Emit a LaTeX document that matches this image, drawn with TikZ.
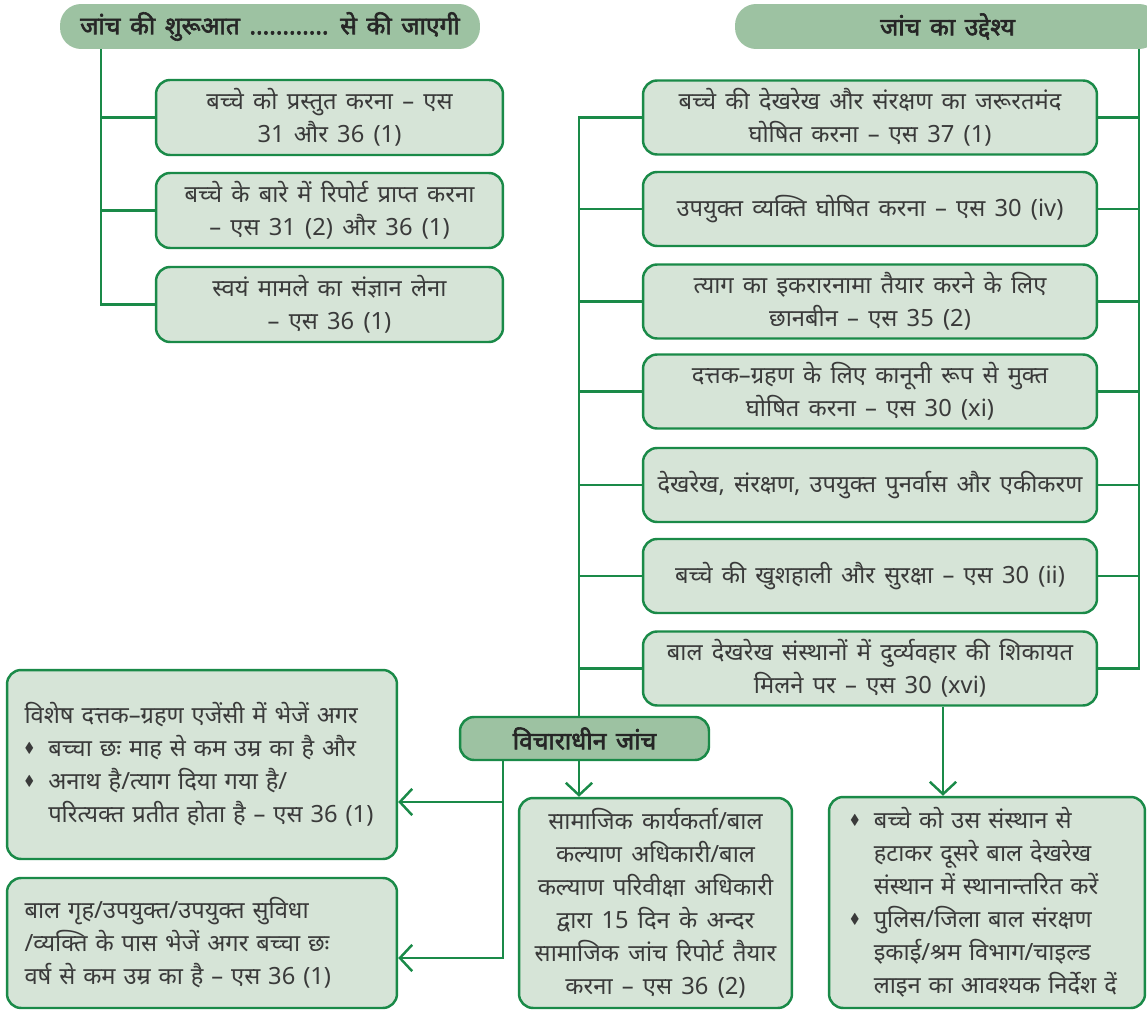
\documentclass[tikz,border=0pt]{standalone}
\usepackage{fontspec}
\usepackage{amssymb}
\setmainfont{Noto Sans}[Script=Devanagari,WordSpace=1.5,BoldFont={Noto Sans},BoldFeatures={FakeBold=2.5}]
\usetikzlibrary{arrows.meta}
\definecolor{boxfill}{HTML}{D6E4D7}
\definecolor{headfill}{HTML}{9DC2A2}
\definecolor{linegreen}{HTML}{1A8A48}
\definecolor{txt}{HTML}{3A3A3A}
\newcommand{\bul}{\makebox[1em][l]{\raisebox{0.3ex}{\scalebox{0.6}{$\blacklozenge$}}}}
\newcommand{\ind}{\hspace*{1em}}

\begin{document}
\begin{tikzpicture}[x=0.02cm,y=-0.02cm,
    box/.style={draw=linegreen,fill=boxfill,line width=1.4pt,rounded corners=8pt,text=txt,
      font=\fontsize{13.5}{18.8}\selectfont,align=center,inner sep=0pt},
    head/.style={fill=headfill,rounded corners=12pt,text=black!85,
      font=\bfseries\fontsize{14}{17}\selectfont,inner sep=0pt},
    conn/.style={linegreen,line width=1.4pt},
    arr/.style={conn,-{Straight Barb[length=7pt,width=15pt,line width=1.4pt]}}]
  \useasboundingbox (0,0) rectangle (1147,1010);
  \coordinate (lx) at (101,0);
  \coordinate (mx) at (579,0);
  \coordinate (rx) at (1139,0);
  \coordinate (vx) at (503,0);
  \coordinate (ax) at (943,0);
  % headings
  \node[head,minimum width=8.4cm,minimum height=0.9cm] (h1) at (270,26.5) {जांच की शुरूआत ............ से की जाएगी};
  \node[head,minimum width=8.5cm,minimum height=0.9cm] (h2) at (947.5,26.5) {जांच का उद्देश्य};
  % left column
  \node[box,minimum width=6.94cm,minimum height=1.5cm] (l1) at (329.5,117.5) {बच्चे को प्रस्तुत करना – एस\\31 और 36 (1)};
  \node[box,minimum width=6.94cm,minimum height=1.5cm] (l2) at (329.5,210.5) {बच्चे के बारे में रिपोर्ट प्राप्त करना\\– एस 31 (2) और 36 (1)};
  \node[box,minimum width=6.94cm,minimum height=1.5cm] (l3) at (329.5,304.5) {स्वयं मामले का संज्ञान लेना\\– एस 36 (1)};
  % right column
  \node[box,minimum width=9.08cm,minimum height=1.48cm] (r1) at (870,117.5) {बच्चे की देखरेख और संरक्षण का जरूरतमंद\\घोषित करना – एस 37 (1)};
  \node[box,minimum width=9.08cm,minimum height=1.48cm] (r2) at (870,209) {उपयुक्त व्यक्ति घोषित करना – एस 30 (iv)};
  \node[box,minimum width=9.08cm,minimum height=1.48cm] (r3) at (870,301.5) {त्याग का इकरारनामा तैयार करने के लिए\\छानबीन – एस 35 (2)};
  \node[box,minimum width=9.08cm,minimum height=1.48cm] (r4) at (870,391.5) {दत्तक–ग्रहण के लिए कानूनी रूप से मुक्त\\घोषित करना – एस 30 (xi)};
  \node[box,minimum width=9.08cm,minimum height=1.48cm] (r5) at (870,485) {देखरेख, संरक्षण, उपयुक्त पुनर्वास और एकीकरण};
  \node[box,minimum width=9.08cm,minimum height=1.48cm] (r6) at (870,576) {बच्चे की खुशहाली और सुरक्षा – एस 30 (ii)};
  \node[box,minimum width=9.08cm,minimum height=1.48cm] (r7) at (870,668.5) {बाल देखरेख संस्थानों में दुर्व्यवहार की शिकायत\\मिलने पर – एस 30 (xvi)};
  % pending inquiry
  \node[box,fill=headfill,text=black!85,font=\bfseries\fontsize{14}{17}\selectfont,minimum width=4.98cm,minimum height=0.86cm] (v) at (584.5,738.5) {विचाराधीन जांच};
  \node[box,align=left,text width=7.1cm,minimum width=7.8cm,minimum height=3.78cm] (l4) at (202,764.5) {विशेष दत्तक–ग्रहण एजेंसी में भेजें अगर\\\bul बच्चा छः माह से कम उम्र का है और\\\bul अनाथ है/त्याग दिया गया है/\\\ind परित्यक्त प्रतीत होता है – एस 36 (1)};
  \node[box,align=left,text width=7.1cm,minimum width=7.8cm,minimum height=2.6cm] (l5) at (202,943) {बाल गृह/उपयुक्त/उपयुक्त सुविधा\\/व्यक्ति के पास भेजें अगर बच्चा छः\\वर्ष से कम उम्र का है – एस 36 (1)};
  \node[box,minimum width=5.46cm,minimum height=4.2cm] (m) at (655.5,903) {सामाजिक कार्यकर्ता/बाल\\कल्याण अधिकारी/बाल\\कल्याण परिवीक्षा अधिकारी\\द्वारा 15 दिन के अन्दर\\सामाजिक जांच रिपोर्ट तैयार\\करना – एस 36 (2)};
  \node[box,align=left,text width=5.48cm,minimum width=6.32cm,minimum height=4.22cm] (r8) at (987,902.5) {\bul बच्चे को उस संस्थान से\\\ind हटाकर दूसरे बाल देखरेख\\\ind संस्थान में स्थानान्तरित करें\\\bul पुलिस/जिला बाल संरक्षण\\\ind इकाई/श्रम विभाग/चाइल्ड\\\ind लाइन का आवश्यक निर्देश दें};
  % connectors
  \draw[conn] (h1.south -| lx) |- (l3.west);
  \draw[conn] (l1.west) -- (l1.west -| lx);
  \draw[conn] (l2.west) -- (l2.west -| lx);
  \draw[conn] (h2.south -| rx) |- (r7.east);
  \foreach \r in {r1,r2,r3,r4,r5,r6}
    \draw[conn] (\r.east) -- (\r.east -| rx);
  \draw[conn] (r1.west) -| (v.north -| mx);
  \foreach \r in {r2,r3,r4,r5,r6,r7}
    \draw[conn] (\r.west) -- (\r.west -| mx);
  \draw[arr] (v.south -| mx) -- (m.north -| mx);
  \draw[arr] (v.south -| vx) |- ([yshift=-0.3cm]l5.east);
  \draw[arr] ([yshift=-0.75cm]l4.east -| vx) -- ([yshift=-0.75cm]l4.east);
  \draw[arr] (r7.south -| ax) -- (r8.north -| ax);
\end{tikzpicture}
\end{document}
